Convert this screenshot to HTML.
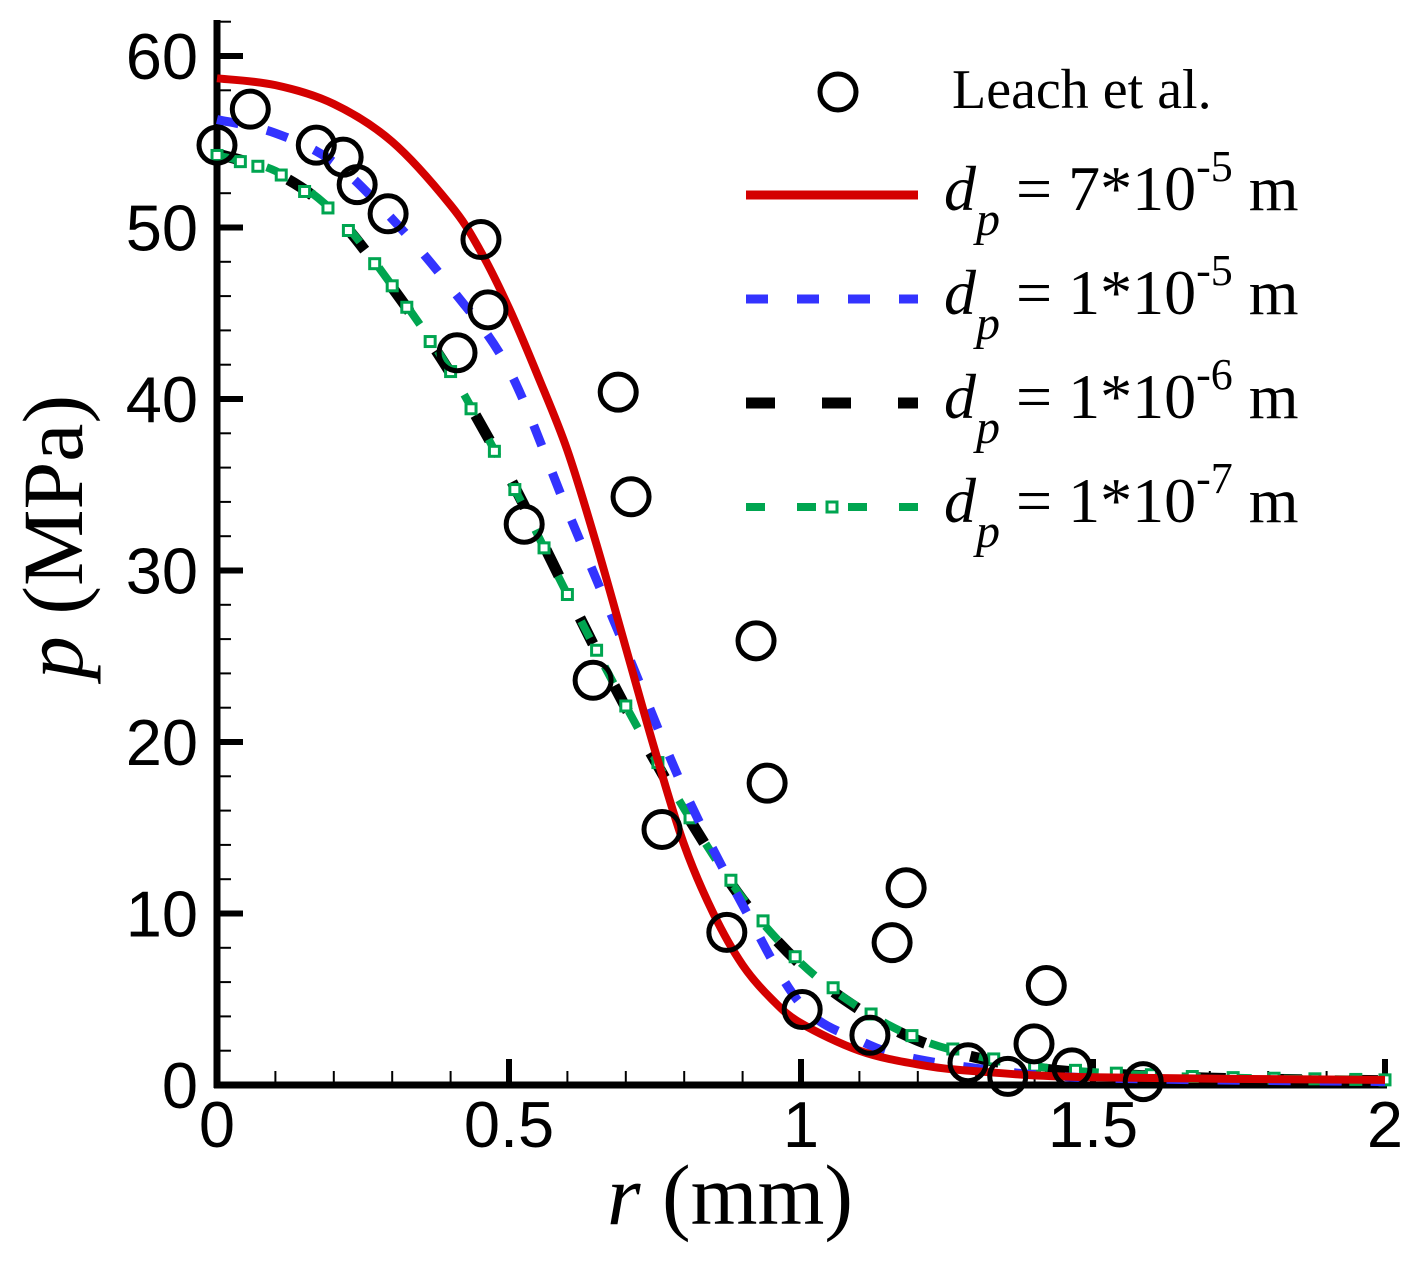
<!DOCTYPE html>
<html><head><meta charset="utf-8"><style>
html,body{margin:0;padding:0;background:#fff;}
svg{display:block;}
.tk{font-family:"Liberation Sans",sans-serif;font-size:65px;fill:#000;}
.sf{font-family:"Liberation Serif",serif;fill:#000;}
</style></head><body>
<svg id="chart" width="1419" height="1262" viewBox="0 0 1419 1262" xmlns="http://www.w3.org/2000/svg">
<g id="axes"></g>
<g id="series"></g>
<g id="legend"></g>
</svg>
<script>
const xTicks = [0, 0.5, 1, 1.5, 2];
const xTickLabels = ["0", "0.5", "1", "1.5", "2"];
const yTicks = [0, 10, 20, 30, 40, 50, 60];
const yTickLabels = ["0", "10", "20", "30", "40", "50", "60"];
const leachR = [0,0.057,0.17,0.216,0.24,0.293,0.452,0.464,0.411,0.687,0.709,0.526,0.644,0.923,0.942,0.762,0.873,1.18,1.156,1.002,1.118,1.42,1.399,1.286,1.354,1.464,1.586];
const leachP = [54.8,56.9,54.8,54.1,52.5,50.8,49.3,45.2,42.7,40.4,34.3,32.7,23.6,25.9,17.6,14.9,8.9,11.5,8.3,4.4,2.9,5.8,2.4,1.3,0.5,1.0,0.2];
const redR = [0,0.1,0.2,0.3,0.4,0.45,0.5,0.55,0.6,0.65,0.7,0.75,0.8,0.85,0.9,0.95,1.0,1.1,1.2,1.3,1.5,2.0];
const redP = [58.7,58.3,57.2,55.0,51.3,48.7,45.3,41.3,37,31.5,25.5,19.5,14,10,7,5,3.6,2.0,1.2,0.8,0.45,0.3];
const blueR = [0,0.1,0.2,0.3,0.4,0.5,0.6,0.7,0.8,0.9,1.0,1.1,1.2,1.4,1.6,2.0];
const blueP = [56.3,55.5,53.8,50.5,46.5,41.7,33.5,25.4,17.2,10.5,4.7,2.6,1.5,0.6,0.35,0.2];
const blackR = [0,0.1,0.2,0.3,0.4,0.5,0.6,0.7,0.8,0.9,1.0,1.1,1.2,1.3,1.4,1.5,1.7,2.0];
const blackP = [54.3,53.2,50.8,46.5,41.5,35.5,28.7,22,16,10.8,7,4.4,2.6,1.6,1.0,0.7,0.4,0.25];
const greenR = blackR;
const greenP = [54.2,53.3,50.9,46.6,41.6,35.4,28.6,22.1,16.1,10.9,7.1,4.5,2.7,1.7,1.1,0.75,0.45,0.3];
const greenMarkR = [0,0.04,0.07,0.11,0.15,0.19,0.225,0.27,0.3,0.325,0.365,0.4,0.435,0.475,0.51,0.56,0.6,0.65,0.7,0.755,0.81,0.88,0.935,0.99,1.055,1.12,1.19,1.26,1.33,1.4,1.47,1.54,1.6,1.67,1.74,1.81,1.88,1.95,2.0];

const NS="http://www.w3.org/2000/svg";
const X0=217, X1=1385, Y0=1085, Y60=56;
const sx = r => X0 + (r/2)*(X1-X0);
const sy = p => Y0 - (p/60)*(Y0-Y60);
function mk(tag, attrs, parent){const e=document.createElementNS(NS,tag);for(const k in attrs)e.setAttribute(k,attrs[k]);parent.appendChild(e);return e;}
const axes=document.getElementById('axes'), series=document.getElementById('series'), legend=document.getElementById('legend');

let e=mk('line',{x1:X0,y1:20,x2:X0,y2:Y0+3,stroke:'#000','stroke-width':7},axes);


e=mk('line',{x1:X0-3,y1:Y0,x2:X1+2,y2:Y0,stroke:'#000','stroke-width':7},axes);


for(let i=0;i<=20;i++){const r=i*0.1;const maj=(i%5===0);
 e=mk('line',{x1:sx(r),y1:Y0,x2:sx(r),y2:Y0-(maj?26:14),stroke:'#000','stroke-width':maj?6:2},axes);
 
 }
for(let i=0;i<=31;i++){const p=i*2;const maj=(p%10===0);
 e=mk('line',{x1:X0,y1:sy(p),x2:X0+(maj?26:14),y2:sy(p),stroke:'#000','stroke-width':maj?6:2},axes);
 
 }
xTicks.forEach((v,i)=>{e=mk('text',{x:sx(v),y:1147,'text-anchor':'middle',class:'tk'},axes);e.textContent=xTickLabels[i];
 
 });
yTicks.forEach((v,i)=>{e=mk('text',{x:198,y:sy(v)+23,'text-anchor':'end',class:'tk'},axes);e.textContent=yTickLabels[i];
 
 });
e=mk('text',{x:730,y:1224,'text-anchor':'middle',class:'sf','font-size':86},axes);
e.innerHTML='<tspan font-style="italic">r</tspan> (mm)';


e=mk('text',{x:0,y:0,'text-anchor':'middle',class:'sf','font-size':86,transform:'translate(82,537) rotate(-90)'},axes);
e.innerHTML='<tspan font-style="italic">p</tspan> (MPa)';



function interp(R,P,r){for(let i=0;i<R.length-1;i++){if(r<=R[i+1]){const t=(r-R[i])/(R[i+1]-R[i]);return P[i]+t*(P[i+1]-P[i]);}}return P[P.length-1];}
function smooth(R,P){let pts=R.map((r,i)=>[sx(r),sy(P[i])]);let d='M'+pts[0][0]+','+pts[0][1];
 for(let i=0;i<pts.length-1;i++){const p0=pts[Math.max(0,i-1)],p1=pts[i],p2=pts[i+1],p3=pts[Math.min(pts.length-1,i+2)];
  const c1=[p1[0]+(p2[0]-p0[0])/6,p1[1]+(p2[1]-p0[1])/6],c2=[p2[0]-(p3[0]-p1[0])/6,p2[1]-(p3[1]-p1[1])/6];
  d+=' C'+c1[0]+','+c1[1]+' '+c2[0]+','+c2[1]+' '+p2[0]+','+p2[1];}return d;}

e=mk('path',{d:smooth(blackR,blackP),fill:'none',stroke:'#000','stroke-width':11,'stroke-dasharray':'29 47'},series);


e=mk('path',{d:smooth(greenR,greenP),fill:'none',stroke:'#00a550','stroke-width':8,'stroke-dasharray':'19 32'},series);


greenMarkR.forEach(r=>{e=mk('rect',{x:sx(r)-5,y:sy(interp(greenR,greenP,r))-5,width:10,height:10,fill:'#fff',stroke:'#00a550','stroke-width':3},series);
 
 });
e=mk('path',{d:smooth(blueR,blueP),fill:'none',stroke:'#3333ff','stroke-width':9,'stroke-dasharray':'22 29'},series);


e=mk('path',{d:smooth(redR,redP),fill:'none',stroke:'#d40000','stroke-width':8},series);


leachR.forEach((r,i)=>{e=mk('circle',{cx:sx(r),cy:sy(leachP[i]),r:18,fill:'none',stroke:'#000','stroke-width':5},series);
 
 });

e=mk('circle',{cx:838,cy:92,r:18,fill:'none',stroke:'#000','stroke-width':5},legend);


e=mk('text',{x:952,y:108,class:'sf','font-size':56},legend);e.textContent='Leach et al.';


const legY=[195,299,403,507];
const legStyle=[['#d40000',9,''],['#3333ff',9,'22 29'],['#000',11,'29 47'],['#00a550',8,'19 32']];
const legExp=['7*10','1*10','1*10','1*10'], legPow=['-5','-5','-6','-7'];
legY.forEach((y,i)=>{const s=legStyle[i];
 e=mk('line',{x1:746,y1:y,x2:918,y2:y,stroke:s[0],'stroke-width':s[1],'stroke-dasharray':s[2]},legend);
 
 
 if(i===3){e=mk('rect',{x:827,y:y-5,width:10,height:10,fill:'#fff',stroke:'#00a550','stroke-width':3},legend);
  
  }
 e=mk('text',{x:944,y:y+15,class:'sf','font-size':64},legend);
 e.innerHTML='<tspan font-style="italic">d</tspan><tspan font-style="italic" font-size="48" dy="25">p</tspan><tspan dy="-25"> = '+legExp[i]+'</tspan><tspan font-size="44" dy="-29">'+legPow[i]+'</tspan><tspan dy="29"> m</tspan>';
 
 });
</script>
</body></html>
